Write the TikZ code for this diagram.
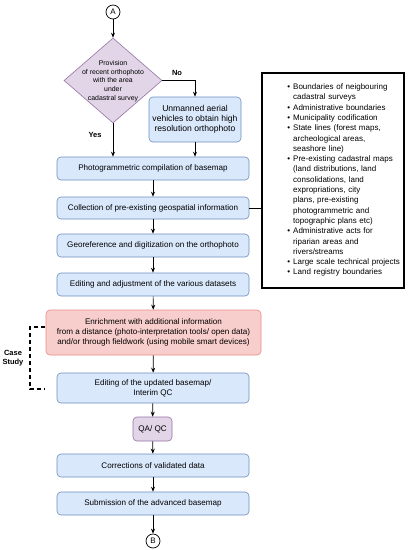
\documentclass[tikz,border=0pt]{standalone}
\usepackage{fontspec}
\setmainfont{Liberation Sans}
\usetikzlibrary{shapes.geometric,arrows.meta,calc}
\definecolor{bfill}{HTML}{DAE8FC}
\definecolor{bdraw}{HTML}{6C8EBF}
\definecolor{rfill}{HTML}{F8CECC}
\definecolor{rdraw}{HTML}{EA8A87}
\definecolor{pfill}{HTML}{E1D5E7}
\definecolor{pdraw}{HTML}{9673A6}
\newcommand\bul{\leavevmode\llap{•\hspace{3pt}}}
\begin{document}
\begin{tikzpicture}[x=1pt,y=-1pt,
  bluebox/.style={draw=bdraw,fill=bfill,rounded corners=4pt,line width=0.6pt,
    minimum width=192pt,minimum height=23pt,inner sep=1pt,align=center,
    font=\fontsize{8.1}{9.7}\selectfont},
  redbox/.style={bluebox,draw=rdraw,fill=rfill,minimum width=215pt,minimum height=45pt},
  circ/.style={circle,draw=black,line width=0.7pt,minimum size=14pt,inner sep=0pt,
    font=\fontsize{8}{9}\selectfont},
  arr/.style={-{Stealth[length=5pt,width=4pt]},line width=0.7pt,black},
  lbl/.style={font=\bfseries\fontsize{7.5}{9}\selectfont,align=center,inner sep=0pt}
]
\useasboundingbox (0,0) rectangle (409,550);
\fill[white] (0,0) rectangle (409,550);

\node[circ] (A) at (113,12) {A};
\node[diamond,draw=pdraw,fill=pfill,line width=0.6pt,minimum width=98pt,minimum height=85pt,inner sep=0pt] (d) at (113,80.5) {};
\node[align=center,inner sep=0pt,font=\fontsize{6.9}{8.7}\selectfont] (dt) at (113,81) {Provision\\of recent orthophoto\\with the area\\under\\cadastral survey};

\node[bluebox,minimum width=92pt,minimum height=45pt,font=\fontsize{8.6}{10}\selectfont] (uav) at (195,119.5) {Unmanned aerial\\vehicles to obtain high\\resolution orthophoto};
\node[bluebox] (photo) at (153,168.5) {Photogrammetric compilation of basemap};
\node[bluebox,minimum height=22pt] (coll) at (153,208) {Collection of pre-existing geospatial information};
\node[bluebox] (geo) at (153,245.5) {Georeference and digitization on the orthophoto};
\node[bluebox] (edit) at (153,284.5) {Editing and adjustment of the various datasets};
\node[redbox] (enr) at (153.5,332.5) {Enrichment with additional information\\from a distance (photo-interpretation tools/ open data)\\and/or through fieldwork (using mobile smart devices)};
\node[bluebox,minimum height=30pt] (upd) at (153,388) {Editing of the updated basemap/\\Interim QC};
\node[bluebox,draw=pdraw,fill=pfill,minimum width=39pt,minimum height=24pt] (qa) at (152.5,429) {QA/ QC};
\node[bluebox] (corr) at (153,465.5) {Corrections of validated data};
\node[bluebox] (sub) at (153,503.5) {Submission of the advanced basemap};
\node[circ] (B) at (153,541) {B};

\node[draw=black,line width=1.3pt,minimum width=142pt,minimum height=215pt,inner sep=0pt] (rb) at (333,180.5) {};
\node[anchor=north west,inner sep=0pt,text width=115pt,align=left,
  font=\fontsize{8}{10.3}\selectfont] (rbt) at (293,83.5) {%
\bul Boundaries of neigbouring\\
cadastral surveys\\
\bul Administrative boundaries\\
\bul Municipality codification\\
\bul State lines (forest maps,\\
archeological areas,\\
seashore line)\\
\bul Pre-existing cadastral maps\\
(land distributions, land\\
consolidations, land\\
expropriations, city\\
plans, pre-existing\\
photogrammetric and\\
topographic plans etc)\\
\bul Administrative acts for\\
riparian areas and\\
rivers/streams\\
\bul Large scale technical projects\\
\bul Land registry boundaries};

\draw[arr] (A.south) -- (d.north);
\draw[arr] (d.south) -- (d.south |- photo.north);
\draw[arr] (d.east) -| (uav.north);
\draw[arr] (uav.south) -- (uav.south |- photo.north);
\node[lbl] (no) at (177,73) {No};
\node[lbl] (yes) at (95,135) {Yes};
\draw[arr] (photo) -- (coll);
\draw[arr] (coll) -- (geo);
\draw[arr] (geo) -- (edit);
\draw[arr] (edit) -- (enr);
\draw[arr] (enr) -- (upd);
\draw[arr] (upd) -- (qa);
\draw[arr] (qa) -- (corr);
\draw[arr] (corr) -- (sub);
\draw[arr] (sub) -- (B);
\draw[line width=0.6pt] (coll.east) -- (coll.east -| rb.west);

\coordinate (cs1) at (45,327);
\coordinate (cs2) at (30,327);
\coordinate (cs3) at (30,389);
\coordinate (cs4) at (45,389);
\draw[dashed,dash pattern=on 4pt off 3pt,line width=1.2pt] (cs1) -- (cs2) -- (cs3) -- (cs4);
\node[lbl] (cs) at (13,358.5) {Case\\Study};
\end{tikzpicture}
\end{document}
